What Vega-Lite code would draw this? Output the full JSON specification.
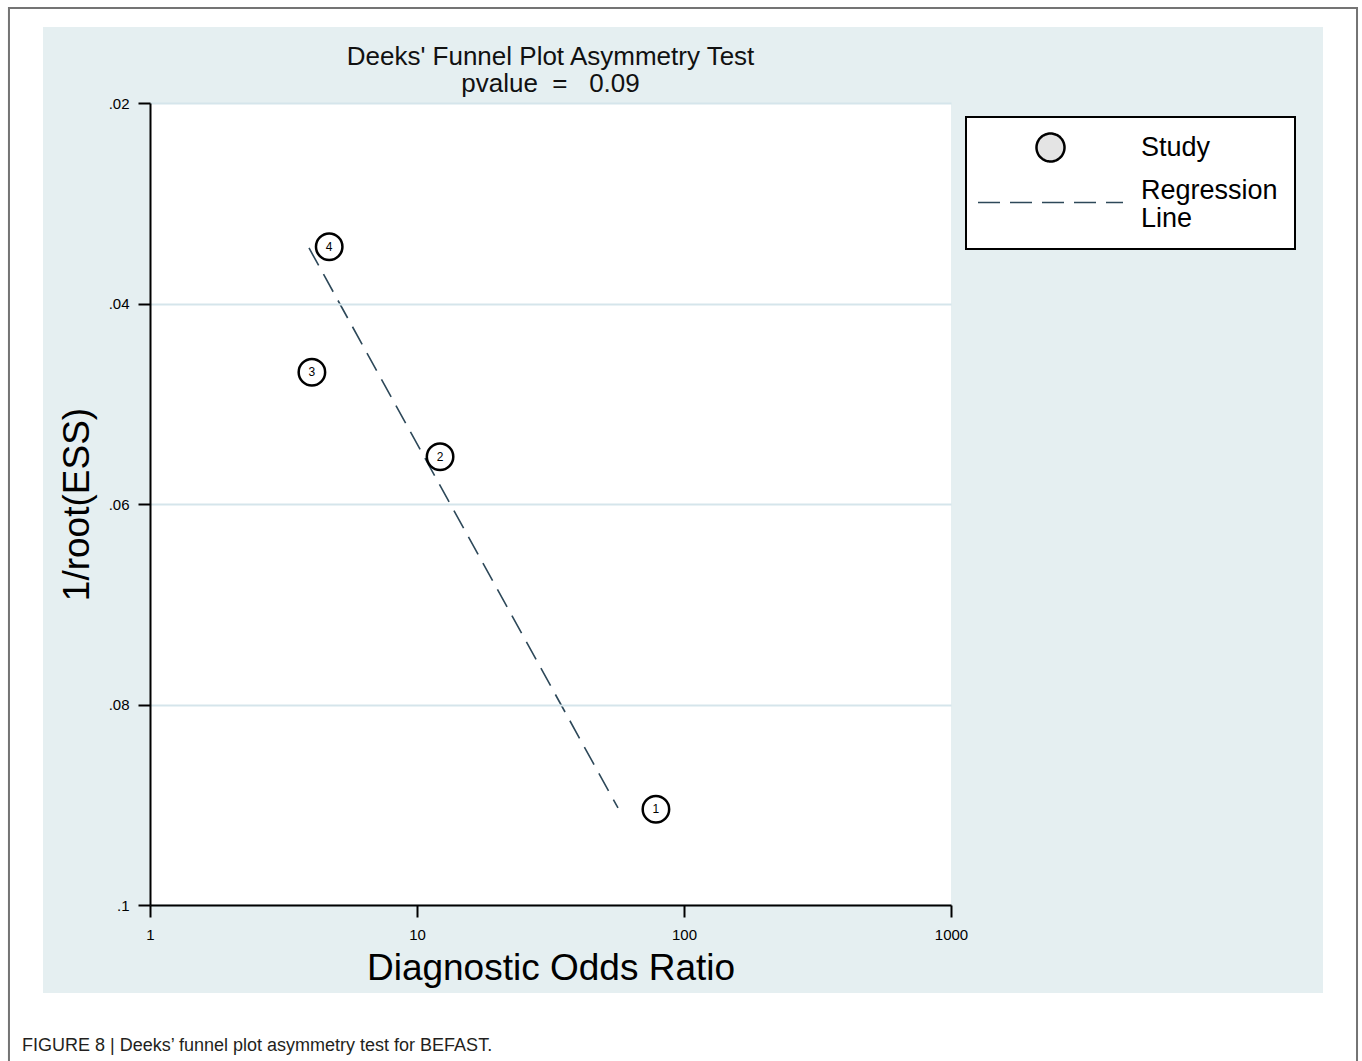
{
  "$schema": "https://vega.github.io/schema/vega-lite/v6.json",
  "background": "white",
  "padding": {"left": 7, "top": 7, "right": 5, "bottom": 5},
  "title": {
    "text": "FIGURE 8 | Deeks\u2019 funnel plot asymmetry test for BEFAST.",
    "orient": "bottom",
    "anchor": "start",
    "frame": "bounds",
    "offset": -28,
    "dx": 14,
    "font": "Liberation Sans",
    "fontSize": 18,
    "fontWeight": "normal",
    "color": "#231f20"
  },
  "datasets": {
    "studies": [
      {"study": "1", "dor": 78.5, "ess": 0.09045, "kind": "Study"},
      {"study": "2", "dor": 12.2, "ess": 0.05528, "kind": "Study"},
      {"study": "3", "dor": 4.04, "ess": 0.04686, "kind": "Study"},
      {"study": "4", "dor": 4.69, "ess": 0.03433, "kind": "Study"}
    ],
    "regression": [
      {"dor": 3.94, "ess": 0.03446},
      {"dor": 56.6, "ess": 0.09032}
    ]
  },
  "vconcat": [
    {
      "width": 801,
      "height": 802,
      "title": {
        "text": ["Deeks' Funnel Plot Asymmetry Test", "pvalue\u00a0\u00a0=\u00a0\u00a0\u00a00.09"],
        "frame": "group",
        "anchor": "middle",
        "offset": -90,
        "font": "Liberation Sans",
        "fontSize": 26,
        "fontWeight": "normal",
        "lineHeight": 27,
        "color": "#111111"
      },
      "layer": [
        {
          "data": {"values": [{"panel": "frame"}]},
          "mark": {"type": "rect", "clip": false, "fill": "white", "fillOpacity": 0, "stroke": "#747474", "strokeWidth": 2},
          "encoding": {
            "x": {"datum": 0.29633, "type": "quantitative"},
            "x2": {"datum": 33163},
            "y": {"datum": 0.010524, "type": "quantitative"},
            "y2": {"datum": 0.11586}
          }
        },
        {
          "data": {"values": [{"panel": "background"}]},
          "mark": {"type": "rect", "clip": false, "color": "#e5eff1"},
          "encoding": {
            "x": {"datum": 0.39742, "type": "quantitative"},
            "x2": {"datum": 24736},
            "y": {"datum": 0.012419, "type": "quantitative"},
            "y2": {"datum": 0.108778}
          }
        },
        {
          "data": {"values": [{"panel": "plot"}]},
          "mark": {"type": "rect", "clip": false, "color": "white"},
          "encoding": {
            "x": {"datum": 1, "type": "quantitative"},
            "x2": {"datum": 1000},
            "y": {"datum": 0.02, "type": "quantitative"},
            "y2": {"datum": 0.1}
          }
        },
        {
          "data": {"name": "regression"},
          "mark": {"type": "line", "clip": false, "strokeDash": [20, 10], "color": "#2d4859", "strokeWidth": 1.6},
          "encoding": {
            "x": {"field": "dor", "type": "quantitative"},
            "y": {"field": "ess", "type": "quantitative"}
          }
        },
        {
          "data": {"name": "studies"},
          "mark": {"type": "point", "clip": false, "filled": true, "fill": "white", "stroke": "black", "strokeWidth": 2.5, "size": 700, "opacity": 1},
          "encoding": {
            "x": {
              "field": "dor",
              "type": "quantitative",
              "scale": {"type": "log", "domain": [1, 1000], "nice": false},
              "axis": {
                "title": "Diagnostic Odds Ratio",
                "values": [1, 10, 100, 1000],
                "format": "d",
                "grid": false,
                "zindex": 1,
                "labelPadding": 10,
                "titlePadding": 8
              }
            },
            "y": {
              "field": "ess",
              "type": "quantitative",
              "scale": {"domain": [0.02, 0.1], "reverse": true, "nice": false, "zero": false},
              "axis": {
                "title": "1/root(ESS)",
                "values": [0.02, 0.04, 0.06, 0.08, 0.1],
                "labelExpr": "replace(format(datum.value, '.2~f'), '0.', '.')",
                "grid": true,
                "zindex": 1,
                "gridColor": "#d5e5eb",
                "gridWidth": 2,
                "labelPadding": 9,
                "titlePadding": 12
              }
            },
            "shape": {
              "field": "kind",
              "type": "nominal",
              "scale": {"domain": ["Study", "Regression Line"], "range": ["circle", "M-1,0.166H1"]},
              "legend": {
                "orient": "none",
                "legendX": 816,
                "legendY": 14,
                "title": null,
                "fillColor": "white",
                "strokeColor": "black",
                "padding": 17,
                "labelFont": "Liberation Sans",
                "labelFontSize": 27,
                "labelColor": "black",
                "labelOffset": 77,
                "labelLimit": 400,
                "symbolOffset": 54,
                "symbolSize": 784,
                "symbolStrokeWidth": 2.5,
                "rowPadding": 9,
                "labelExpr": "datum.label == 'Regression Line' ? ['Regression', 'Line'] : datum.label",
                "encoding": {
                  "symbols": {
                    "size": {"value": {"expr": "datum.value == 'Study' ? 784 : 21025"}},
                    "fill": {"value": {"expr": "datum.value == 'Study' ? '#e4e4e4' : 'transparent'"}},
                    "stroke": {"value": {"expr": "datum.value == 'Study' ? 'black' : '#2d4859'"}},
                    "strokeWidth": {"value": {"expr": "datum.value == 'Study' ? 2.5 : 1.6"}},
                    "strokeDash": {"value": {"expr": "datum.value == 'Study' ? [1, 0] : [22, 10]"}},
                    "opacity": {"value": 1},
                    "fillOpacity": {"value": 1},
                    "strokeOpacity": {"value": 1}
                  },
                  "labels": {"lineHeight": {"value": 28}},
                  "legend": {"strokeWidth": {"value": 2}}
                }
              }
            }
          }
        },
        {
          "data": {"name": "studies"},
          "mark": {"type": "text", "clip": false, "fontSize": 12, "color": "black", "font": "Liberation Sans"},
          "encoding": {
            "x": {"field": "dor", "type": "quantitative"},
            "y": {"field": "ess", "type": "quantitative"},
            "text": {"field": "study"}
          }
        }
      ]
    }
  ],
  "config": {
    "font": "Liberation Sans",
    "view": {"stroke": null},
    "axis": {
      "zindex": 1,
      "domainColor": "black",
      "domainWidth": 2,
      "tickColor": "black",
      "tickWidth": 2,
      "tickSize": 12,
      "labelColor": "black",
      "labelFontSize": 15,
      "labelFont": "Liberation Sans",
      "labelFlush": false,
      "titleColor": "black",
      "titleFont": "Liberation Sans",
      "titleFontWeight": "normal",
      "titleFontSize": 37
    }
  }
}
